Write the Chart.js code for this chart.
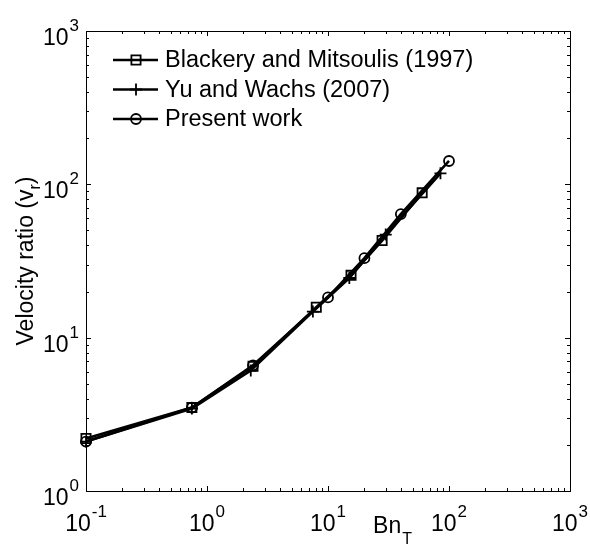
<!DOCTYPE html>
<html>
<head>
<meta charset="utf-8">
<script src="https://cdn.jsdelivr.net/npm/chart.js@4/dist/chart.umd.min.js"></script>
<style>
  html, body { margin: 0; padding: 0; background: #fff; }
  canvas { display: block; }
</style>
</head>
<body>
<canvas id="chart" width="590" height="546"></canvas>
<script>
// Series: Bingham number (Bn_T) against velocity ratio (v_r)
const seriesNames = ['Blackery and Mitsoulis (1997)', 'Yu and Wachs (2007)', 'Present work'];
const blackeryBn = [0.1, 0.75, 2.4, 8, 15.5, 28, 60];
const blackeryVr = [2.2, 3.5, 6.5, 15.8, 25.5, 43, 88];
const yuBn = [0.1, 0.75, 2.3, 7.5, 15, 30, 85];
const yuVr = [2.1, 3.45, 6.1, 14.8, 24.5, 47, 118];
const presentBn = [0.1, 0.75, 2.4, 10, 20, 40, 100];
const presentVr = [2.1, 3.5, 6.6, 18.3, 33, 64, 142];

// Decade tick exponents of the two log axes
const xExponents = ['-1', '0', '1', '2', '3'];
const yExponents = ['0', '1', '2', '3'];

const FONT = '"Liberation Sans", Arial, sans-serif';
const BASE_PX = 23;   // "10" of the tick labels
const EXP_PX = 17;    // raised exponent
const EXP_RISE = 14;  // exponent baseline above the "10" baseline

function pairs(xs, ys) { return xs.map((x, i) => ({ x: x, y: ys[i] })); }

function makeSet(label, xs, ys, style, radius) {
  return {
    label: label,
    data: pairs(xs, ys),
    borderColor: '#000',
    borderWidth: 2.6,
    backgroundColor: 'rgba(0,0,0,0)',
    pointStyle: style,
    pointRadius: radius,
    pointHoverRadius: radius,
    pointBorderColor: '#000',
    pointBackgroundColor: 'rgba(0,0,0,0)',
    pointBorderWidth: 1.8,
    tension: 0,
    clip: false,
    fill: false
  };
}

// Writes "10" with a raised exponent; align is 'center' or 'right'
function drawPower(ctx, exp, x, baseline, align) {
  ctx.font = BASE_PX + 'px ' + FONT;
  const wb = ctx.measureText('10').width;
  ctx.font = EXP_PX + 'px ' + FONT;
  const we = ctx.measureText(exp).width;
  const total = wb + we + 1;
  const start = align === 'right' ? x - total : x - total / 2;
  ctx.textAlign = 'left';
  ctx.textBaseline = 'alphabetic';
  ctx.font = BASE_PX + 'px ' + FONT;
  ctx.fillText('10', start, baseline);
  ctx.font = EXP_PX + 'px ' + FONT;
  ctx.fillText(exp, start + wb + 1, baseline - EXP_RISE);
}

function minorValues(lo, hi) {
  const out = [];
  for (let p = lo; p < hi; p++) {
    for (let m = 2; m <= 9; m++) out.push(m * Math.pow(10, p));
  }
  return out;
}

const frameAndText = {
  id: 'frameAndText',
  beforeDatasetsDraw(chart) {
    const ctx = chart.ctx;
    const a = chart.chartArea;
    const xs = chart.scales.x, ys = chart.scales.y;
    ctx.save();
    ctx.strokeStyle = '#000';
    ctx.lineWidth = 1;
    ctx.strokeRect(a.left + 0.5, a.top + 0.5, a.right - a.left, a.bottom - a.top);
    ctx.beginPath();
    const tick = (len, v, axis) => {
      if (axis === 'x') {
        const px = Math.round(xs.getPixelForValue(v)) + 0.5;
        ctx.moveTo(px, a.bottom); ctx.lineTo(px, a.bottom - len);
        ctx.moveTo(px, a.top); ctx.lineTo(px, a.top + len);
      } else {
        const py = Math.round(ys.getPixelForValue(v)) + 0.5;
        ctx.moveTo(a.left, py); ctx.lineTo(a.left + len, py);
        ctx.moveTo(a.right, py); ctx.lineTo(a.right - len, py);
      }
    };
    xExponents.forEach(e => tick(5, Math.pow(10, +e), 'x'));
    yExponents.forEach(e => tick(5, Math.pow(10, +e), 'y'));
    minorValues(-1, 3).forEach(v => tick(3, v, 'x'));
    minorValues(0, 3).forEach(v => tick(3, v, 'y'));
    ctx.stroke();
    ctx.restore();
  },
  afterDraw(chart) {
    const ctx = chart.ctx;
    const a = chart.chartArea;
    const xs = chart.scales.x, ys = chart.scales.y;
    ctx.save();
    ctx.fillStyle = '#000';

    // tick labels
    xExponents.forEach(e => {
      drawPower(ctx, e, xs.getPixelForValue(Math.pow(10, +e)), a.bottom + 40, 'center');
    });
    yExponents.forEach(e => {
      drawPower(ctx, e, a.left - 7, ys.getPixelForValue(Math.pow(10, +e)) + 14, 'right');
    });

    // x title: Bn_T
    ctx.textAlign = 'left';
    ctx.textBaseline = 'alphabetic';
    ctx.font = '23px ' + FONT;
    const wBn = ctx.measureText('Bn').width;
    ctx.font = '16px ' + FONT;
    const wT = ctx.measureText('T').width;
    const xt = 392 - (wBn + wT) / 2;
    ctx.font = '23px ' + FONT;
    ctx.fillText('Bn', xt, 533);
    ctx.font = '16px ' + FONT;
    ctx.fillText('T', xt + wBn + 1, 544);

    // y title: Velocity ratio (v_r)
    ctx.save();
    ctx.translate(33, (a.top + a.bottom) / 2);
    ctx.rotate(-Math.PI / 2);
    ctx.font = '23px ' + FONT;
    const p1 = 'Velocity ratio (v';
    const w1 = ctx.measureText(p1).width;
    ctx.font = '16px ' + FONT;
    const w2 = ctx.measureText('r').width;
    ctx.font = '23px ' + FONT;
    const w3 = ctx.measureText(')').width;
    const sx = -(w1 + w2 + w3) / 2;
    ctx.fillText(p1, sx, 0);
    ctx.font = '16px ' + FONT;
    ctx.fillText('r', sx + w1, 7);
    ctx.font = '23px ' + FONT;
    ctx.fillText(')', sx + w1 + w2, 0);
    ctx.restore();

    // legend: line sample with marker, then label
    const rows = [60, 89.5, 119];
    chart.data.datasets.forEach((ds, i) => {
      const cy = rows[i];
      ctx.strokeStyle = '#000';
      ctx.lineWidth = 2.6;
      ctx.beginPath();
      ctx.moveTo(113, cy);
      ctx.lineTo(158, cy);
      ctx.stroke();
      ctx.lineWidth = ds.pointBorderWidth;
      ctx.beginPath();
      const r = ds.pointRadius;
      if (ds.pointStyle === 'rect') {
        const s = Math.SQRT1_2 * r;
        ctx.rect(136 - s, cy - s, 2 * s, 2 * s);
      } else if (ds.pointStyle === 'circle') {
        ctx.arc(136, cy, r, 0, Math.PI * 2);
      } else {
        ctx.moveTo(136, cy - r); ctx.lineTo(136, cy + r);
        ctx.moveTo(136 - r, cy); ctx.lineTo(136 + r, cy);
      }
      ctx.stroke();
      ctx.font = '23.5px ' + FONT;
      ctx.textAlign = 'left';
      ctx.textBaseline = 'middle';
      ctx.fillStyle = '#000';
      ctx.fillText(ds.label, 165, cy + 1);
    });
    ctx.restore();
  }
};

new Chart(document.getElementById('chart'), {
  type: 'line',
  data: {
    datasets: [
      makeSet(seriesNames[0], blackeryBn, blackeryVr, 'rect', 6.5),
      makeSet(seriesNames[1], yuBn, yuVr, 'cross', 6),
      makeSet(seriesNames[2], presentBn, presentVr, 'circle', 5)
    ]
  },
  options: {
    responsive: false,
    animation: false,
    events: [],
    layout: { padding: { left: 86, right: 20, top: 31, bottom: 55 } },
    scales: {
      x: { type: 'logarithmic', min: 0.1, max: 1000, display: false },
      y: { type: 'logarithmic', min: 1, max: 1000, display: false }
    },
    plugins: { legend: { display: false }, tooltip: { enabled: false } }
  },
  plugins: [frameAndText]
});
</script>
</body>
</html>
